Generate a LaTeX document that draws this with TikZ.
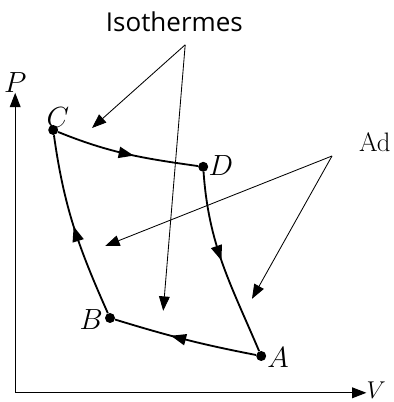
\documentclass[tikz,border=0pt]{standalone}
\usepackage{amsmath}
\usepackage{fontspec}
\newfontfamily\isofont{Open Sans}
\usetikzlibrary{arrows.meta, positioning, decorations.markings}

\begin{document}
\begin{tikzpicture}[
  pt/.style={circle, fill=black, inner sep=0pt, minimum size=2.5mm},
  lettre/.style={font=\fontsize{21.5}{24}\selectfont, inner sep=1pt},
  axe/.style={-{Triangle[length=3.6mm, width=2.7mm]}, line width=0.8pt},
  trans/.style={line width=1.3pt, postaction={decorate},
      decoration={markings, mark=at position #1 with {\arrow{Triangle[length=3.8mm, width=2.8mm]}}}},
  note/.style={-{Triangle[length=3.6mm, width=2.7mm]}, line width=0.6pt}
]
\useasboundingbox (0,0) rectangle (9.85,10.05);

% axes
\coordinate (O) at (0.38,0.23);
\coordinate (Ptip) at (0.38,7.73);
\coordinate (Vtip) at (9.16,0.23);
\draw[axe] (O) -- (Ptip);
\draw[axe] (O) -- (Vtip);
\node[lettre, above=-1pt of Ptip] (lP) {$P$};
\node[lettre, font=\fontsize{19}{22}\selectfont, inner sep=0pt, right=0pt of Vtip, yshift=2pt] (lV) {$V$};

% etats du cycle
\node[pt] (C) at (1.33,6.8) {};
\node[pt] (D) at (5.08,5.88) {};
\node[pt] (B) at (2.75,2.1) {};
\node[pt] (A) at (6.53,1.15) {};
\node[lettre] (lC) at (1.45,7.1) {$C$};
\node[lettre] (lD) at (5.52,5.9) {$D$};
\node[lettre] (lB) at (2.28,2.05) {$B$};
\node[lettre] (lA) at (6.95,1.1) {$A$};

\draw[trans=0.55] (C) to[out=-22,in=172] (D);
\draw[trans=0.48] (D) to[out=-86,in=113] (A);
\draw[trans=0.6] (A) to[out=169,in=-17] (B);
\draw[trans=0.5] (B) to[out=114,in=-82] (C);

% legendes
\node[font=\isofont\fontsize{18.5}{22}\selectfont] (iso) at (4.36,9.5) {Isothermes};
\coordinate (isoP) at (4.63,8.93);
\coordinate (isoCD) at (2.3,6.85);
\coordinate (isoAB) at (4.08,2.28);
\draw[note] (isoP) -- (isoCD);
\draw[note] (isoP) -- (isoAB);

\node[font=\fontsize{19}{22}\selectfont, anchor=base west, inner sep=0pt] (adi) at (8.97,6.25) {Ad};
\coordinate (adP) at (8.3,6.15);
\coordinate (adBC) at (2.63,3.9);
\coordinate (adDA) at (6.3,2.58);
\draw[note] (adP) -- (adBC);
\draw[note] (adP) -- (adDA);
\end{tikzpicture}
\end{document}
